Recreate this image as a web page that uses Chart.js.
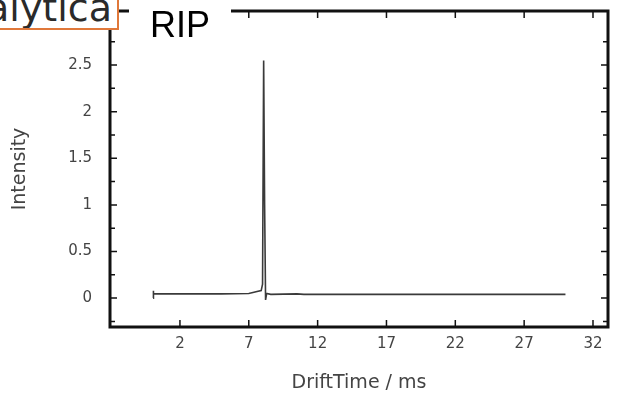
<!DOCTYPE html>
<html>
<head>
<meta charset="utf-8">
<script src="https://cdn.jsdelivr.net/npm/chart.js@4"></script>
<style>
  html, body { margin: 0; padding: 0; background: #fff; }
  #wrap { position: relative; width: 621px; height: 394px; overflow: hidden; }
  #logo {
    position: absolute; left: 0; top: 0; width: 117px; height: 28px;
    background: #fff; border-right: 2px solid #e0783a; border-bottom: 2px solid #e0783a;
    overflow: hidden;
  }
  #logo span {
    position: absolute; right: 5px; top: -11px;
    font-family: "DejaVu Sans", sans-serif; font-weight: 400; font-size: 38px;
    color: #2a2a2a; line-height: 38px; white-space: nowrap;
  }
  #rip {
    position: absolute; left: 129px; top: 0; width: 102px; height: 44px; background: #fff;
  }
  #rip span {
    position: absolute; left: 21px; top: 5px;
    font-family: "Liberation Sans", Arial, sans-serif; font-size: 36px; color: #000; line-height: 40px;
  }
</style>
</head>
<body>
<div id="wrap">
  <canvas id="grafico" width="621" height="394"></canvas>
  <div id="logo"><span>Analytica</span></div>
  <div id="rip"><span>RIP</span></div>
</div>
<script>
// spectrum
const driftTime = [0.05, 0.05, 0.1, 2, 5, 7, 7.6, 7.9, 8.0, 8.08, 8.15, 8.22, 8.3, 8.6, 10.5, 11, 15, 20, 25, 30];
const intensity = [0.0, 0.08, 0.045, 0.045, 0.045, 0.05, 0.07, 0.08, 0.15, 2.55, 1.0, -0.02, 0.05, 0.04, 0.045, 0.04, 0.04, 0.04, 0.04, 0.04];

const xTicks = [2, 7, 12, 17, 22, 27, 32];
const yTicks = [0, 0.5, 1, 1.5, 2, 2.5];
const yMinorTicks = [-0.25, 0.25, 0.75, 1.25, 1.75, 2.25, 2.75];

const tickFont = { family: 'DejaVu Sans', size: 15 };
const titleFont = { family: 'DejaVu Sans', size: 19 };

// frame and inward ticks like the original plot
const marcoPlugin = {
  id: 'marco',
  afterDraw(chart) {
    const { ctx, chartArea: a, scales: { x, y } } = chart;
    ctx.save();
    ctx.strokeStyle = '#111';
    ctx.lineWidth = 1.5;
    ctx.beginPath();
    xTicks.forEach(v => {
      const px = x.getPixelForValue(v);
      ctx.moveTo(px, a.bottom); ctx.lineTo(px, a.bottom - 7);
      ctx.moveTo(px, a.top); ctx.lineTo(px, a.top + 7);
    });
    yTicks.forEach(v => {
      const py = y.getPixelForValue(v);
      ctx.moveTo(a.left, py); ctx.lineTo(a.left + 7, py);
      ctx.moveTo(a.right, py); ctx.lineTo(a.right - 7, py);
    });
    yMinorTicks.forEach(v => {
      const py = y.getPixelForValue(v);
      ctx.moveTo(a.left, py); ctx.lineTo(a.left + 5, py);
      ctx.moveTo(a.right, py); ctx.lineTo(a.right - 5, py);
    });
    ctx.stroke();
    ctx.lineWidth = 3;
    ctx.strokeRect(a.left, a.top, a.right - a.left, a.bottom - a.top);
    ctx.restore();
  }
};

const ctx = document.getElementById('grafico').getContext('2d');
new Chart(ctx, {
  type: 'line',
  data: {
    datasets: [{
      data: driftTime.map((t, i) => ({ x: t, y: intensity[i] })),
      borderColor: '#3a3a3a',
      borderWidth: 1.6,
      pointRadius: 0,
      tension: 0,
      fill: false
    }]
  },
  options: {
    responsive: false,
    animation: false,
    layout: { padding: { top: 11, right: 13, left: 0, bottom: 0 } },
    plugins: { legend: { display: false }, tooltip: { enabled: false } },
    scales: {
      x: {
        type: 'linear',
        min: -3.08,
        max: 33.09,
        afterBuildTicks: s => { s.ticks = xTicks.map(v => ({ value: v })); },
        afterFit: s => { s.height = 67; s.paddingLeft = 0; s.paddingRight = 0; },
        grid: { display: false, drawTicks: false },
        border: { display: false },
        ticks: { padding: 8, font: tickFont, color: '#444', maxRotation: 0, autoSkip: false },
        title: { display: true, text: 'DriftTime / ms', font: titleFont, color: '#444', padding: { top: 0, bottom: 0 } }
      },
      y: {
        min: -0.31,
        max: 3.08,
        afterBuildTicks: s => { s.ticks = yTicks.map(v => ({ value: v })); },
        afterFit: s => { s.width = 110; s.paddingTop = 0; s.paddingBottom = 0; },
        grid: { display: false, drawTicks: false },
        border: { display: false },
        ticks: { padding: 18, font: tickFont, color: '#444', autoSkip: false, callback: v => String(v) },
        title: { display: true, text: 'Intensity', font: titleFont, color: '#444', padding: { top: 9, bottom: 0 } }
      }
    }
  },
  plugins: [marcoPlugin]
});
</script>
</body>
</html>
